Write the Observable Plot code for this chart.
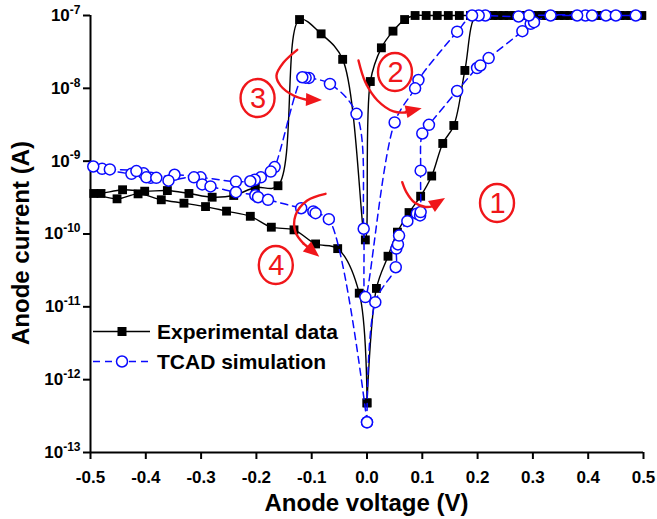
<!DOCTYPE html>
<html><head><meta charset="utf-8">
<script src="https://cdn.jsdelivr.net/npm/d3@7"></script>
<script src="https://cdn.jsdelivr.net/npm/@observablehq/plot@0.6"></script>
<style>
html,body{margin:0;padding:0;background:#fff;}
#chart svg g[aria-label*="axis"] line, #chart svg g[aria-label*="axis"] path {stroke-width:2px;stroke:#000;}
</style></head>
<body><div id="chart"></div>
<script>
// ---- Experimental data (ordered along the measured hysteresis loop) ----
const expV = [0.000, 0.017, 0.038, 0.055, 0.076, 0.097, 0.117, 0.137, 0.157, 0.177,
  0.197, 0.217, 0.237, 0.257, 0.277, 0.297, 0.317, 0.337, 0.357, 0.377, 0.397, 0.417, 0.437, 0.457, 0.477, 0.497,
  0.487, 0.467, 0.447, 0.427, 0.407, 0.387, 0.367, 0.347, 0.327, 0.307, 0.287, 0.267, 0.247, 0.227, 0.207, 0.187, 0.167, 0.147, 0.127, 0.107, 0.087,
  0.068, 0.047, 0.026, 0.006, -0.003, -0.044, -0.083, -0.122, -0.161,
  -0.202, -0.241, -0.280, -0.322, -0.361, -0.402, -0.442, -0.481,
  -0.494, -0.452, -0.414, -0.372, -0.331, -0.292, -0.254, -0.211, -0.173, -0.132, -0.093, -0.053, -0.014, 0.000];
const expI = [4.8e-13, 1.79e-11, 4.95e-11, 1.06e-10, 1.97e-10, 3.3e-10, 6.25e-10, 1.75e-9, 3.09e-9, 1.76e-8,
  1e-7, 1e-7, 1e-7, 1e-7, 1e-7, 1e-7, 1e-7, 1e-7, 1e-7, 1e-7, 1e-7, 1e-7, 1e-7, 1e-7, 1e-7, 1e-7,
  1e-7, 1e-7, 1e-7, 1e-7, 1e-7, 1e-7, 1e-7, 1e-7, 1e-7, 1e-7, 1e-7, 1e-7, 1e-7, 1e-7, 1e-7, 1e-7, 1e-7, 1e-7, 1e-7, 1e-7, 1e-7,
  8.8e-8, 6.1e-8, 3.6e-8, 1.24e-8, 8.3e-11, 2.5e-8, 5.6e-8, 8.8e-8, 4.6e-10,
  4.35e-10, 3.38e-10, 3.2e-10, 3.6e-10, 3.95e-10, 3.87e-10, 4.05e-10, 3.6e-10,
  3.6e-10, 3.04e-10, 3.56e-10, 2.95e-10, 2.65e-10, 2.38e-10, 2.06e-10, 1.75e-10, 1.24e-10, 1.14e-10, 7.3e-11, 6.3e-11, 1.54e-11, 4.8e-13];

// ---- TCAD simulation (ordered along the simulated loop) ----
const simV = [0.000, 0.015, 0.052, 0.053, 0.056, 0.058, 0.073, 0.090, 0.096, 0.097, 0.097, 0.100, 0.112, 0.163, 0.199, 0.205, 0.220, 0.281, 0.296, 0.302,
  0.332, 0.395, 0.432, 0.486,
  0.450, 0.407, 0.380, 0.293, 0.274, 0.214, 0.202, 0.190,
  0.163, 0.093, 0.087, 0.050, -0.003,
  -0.006, -0.019, -0.067, -0.105, -0.111, -0.117,
  -0.167, -0.174, -0.192, -0.203, -0.211, -0.237, -0.301, -0.348, -0.391, -0.404, -0.426, -0.479, -0.495,
  -0.465, -0.417, -0.399, -0.381, -0.359, -0.313, -0.298, -0.283, -0.237, -0.202, -0.197, -0.179, -0.119, -0.097, -0.093, -0.069, 0.000];
const simI = [2.6e-13, 1.16e-11, 3.5e-11, 6.3e-11, 7.2e-11, 9.5e-11, 1.5e-10, 1.9e-10, 1.8e-10, 2.0e-10, 7.4e-10, 2.4e-9, 3.15e-9, 9.2e-9, 1.9e-8, 2.06e-8, 2.6e-8, 6.1e-8, 7.7e-8, 8.1e-8,
  1e-7, 1e-7, 1e-7, 1e-7,
  1e-7, 1e-7, 1e-7, 1e-7, 9.7e-8, 1e-7, 1e-7, 1e-7,
  6.0e-8, 1.3e-8, 1.0e-8, 3.4e-9, 1.36e-11,
  1.18e-10, 4.47e-9, 1.15e-8, 1.39e-8, 1.40e-8, 1.42e-8,
  8.3e-10, 7.2e-10, 6.0e-10, 5.55e-10, 5.3e-10, 5.25e-10, 6.0e-10, 6.5e-10, 5.9e-10, 6.8e-10, 6.7e-10, 7.85e-10, 8.45e-10,
  7.7e-10, 7.3e-10, 6.0e-10, 5.9e-10, 5.4e-10, 6.0e-10, 4.8e-10, 4.5e-10, 3.75e-10, 3.4e-10, 3.2e-10, 2.95e-10, 2.26e-10, 2.04e-10, 1.93e-10, 1.6e-10, 2.6e-13];

// ---- axes ----
const xTicks = [-0.5, -0.4, -0.3, -0.2, -0.1, 0.0, 0.1, 0.2, 0.3, 0.4, 0.5];
const yTicks = [1e-13, 1e-12, 1e-11, 1e-10, 1e-9, 1e-8, 1e-7];
const xTitle = "Anode voltage (V)";
const yTitle = "Anode current (A)";
const seriesNames = ["Experimental data", "TCAD simulation"];

// ---- sweep-direction annotations (data coordinates) ----
const noteLabels = ["1", "2", "3", "4"];
const noteV = [0.236, 0.0515, -0.197, -0.164];
const noteI = [2.62e-10, 1.65e-8, 7.24e-9, 3.69e-11];
const arcV = [
  [0.0637, 0.0714, 0.0859, 0.1058, 0.1203],
  [-0.0154, -0.0027, 0.0190, 0.0479, 0.0696],
  [-0.1262, -0.151, -0.1637, -0.1564, -0.1329, -0.1076],
  [-0.075, -0.1081, -0.1293, -0.1293, -0.1143]
];
const arcI = [
  [5.14e-10, 3.72e-10, 2.70e-10, 2.35e-10, 2.42e-10],
  [2.41e-8, 1.20e-8, 6.81e-9, 4.81e-9, 4.66e-9],
  [3.38e-8, 2.26e-8, 1.50e-8, 1.09e-8, 7.97e-9, 6.92e-9],
  [3.56e-10, 2.88e-10, 1.80e-10, 1.06e-10, 7.33e-11]
];
const tipV = [0.142, 0.0998, -0.0805, -0.0854];
const tipI = [3.07e-10, 5.24e-9, 6.81e-9, 4.80e-11];

const RED = "#f0161a", BLUE = "#0a0aff";
const FONT = "'Liberation Sans', Arial, Helvetica, sans-serif";

const exp = expV.map((v, k) => ({v, i: expI[k]}));
const sim = simV.map((v, k) => ({v, i: simI[k]}));
const arcs = arcV.flatMap((vs, k) => vs.map((v, j) => ({k, v, i: arcI[k][j]})));
const notes = noteLabels.map((t, k) => ({t, v: noteV[k], i: noteI[k]}));

function annotationShapes(index, scales) {
  const {x, y} = scales;
  const g = d3.create("svg:g");
  notes.forEach(n => {
    g.append("ellipse").attr("cx", x(n.v)).attr("cy", y(n.i)).attr("rx", 17).attr("ry", 19)
      .attr("fill", "none").attr("stroke", RED).attr("stroke-width", 2.4);
  });
  arcV.forEach((vs, k) => {
    const m = vs.length - 1;
    const bx = x(vs[m]), by = y(arcI[k][m]);
    const tx = x(tipV[k]), ty = y(tipI[k]);
    const L = Math.hypot(tx - bx, ty - by), ux = (tx - bx) / L, uy = (ty - by) / L;
    const hw = 6.5, hl = 16;
    const cx = tx - ux * hl, cy = ty - uy * hl;
    g.append("line").attr("x1", bx).attr("y1", by).attr("x2", cx + ux * 2).attr("y2", cy + uy * 2)
      .attr("stroke", RED).attr("stroke-width", 2.4);
    g.append("path")
      .attr("d", `M${tx},${ty}L${cx - uy * hw},${cy + ux * hw}L${cx + uy * hw},${cy - ux * hw}Z`)
      .attr("fill", RED);
  });
  return g.node();
}

const W = 657, H = 519;
const chart = Plot.plot({
  width: W, height: H,
  marginLeft: 90, marginRight: 14, marginTop: 15, marginBottom: 67,
  style: {fontFamily: FONT, fontSize: "17px", fontWeight: "bold", background: "#fff", color: "#000", overflow: "visible"},
  x: {domain: [-0.5, 0.5], ticks: xTicks, tickFormat: d => d.toFixed(1), tickSize: 7, tickPadding: 11, label: null},
  y: {type: "log", domain: [1e-13, 1e-7], ticks: yTicks, tickFormat: d => "10^" + Math.round(Math.log10(d)), tickSize: 7, tickPadding: 3, label: null},
  marks: [
    Plot.ruleX([-0.5], {stroke: "#000", strokeWidth: 2}),
    Plot.ruleY([1e-13], {stroke: "#000", strokeWidth: 2}),
    Plot.line(exp, {x: "v", y: "i", stroke: "#000", strokeWidth: 1.4, curve: "catmull-rom"}),
    Plot.dot(exp, {x: "v", y: "i", symbol: "square", r: 5, fill: "#000", stroke: "none"}),
    Plot.line(sim, {x: "v", y: "i", stroke: BLUE, strokeWidth: 1.5, strokeDasharray: "7,5", curve: "catmull-rom"}),
    Plot.dot(sim, {x: "v", y: "i", r: 5.5, fill: "#fff", stroke: BLUE, strokeWidth: 1.5}),
    Plot.line(arcs, {x: "v", y: "i", z: "k", stroke: RED, strokeWidth: 2.4, curve: "catmull-rom"}),
    annotationShapes,
    Plot.text(notes, {x: "v", y: "i", text: "t", fill: RED, fontSize: 29, fontWeight: "normal", fontFamily: FONT})
  ]
});
document.getElementById("chart").appendChild(chart);

const svg = d3.select(chart);
// superscript exponents on y tick labels
svg.selectAll("text").each(function () {
  const m = /^10\^(-?\d+)$/.exec(this.textContent);
  if (m) {
    const s = d3.select(this);
    s.text(null);
    s.append("tspan").text("10");
    s.append("tspan").attr("dy", "-0.6em").attr("font-size", "12px").text(m[1]);
  }
});
// axis titles
svg.append("text").attr("x", 366.5).attr("y", 503).attr("dy", "0.35em").attr("text-anchor", "middle")
  .attr("font-size", 24).attr("font-weight", "bold").attr("font-family", FONT).text(xTitle);
svg.append("text").attr("transform", "translate(21,243) rotate(-90)").attr("dy", "0.35em").attr("text-anchor", "middle")
  .attr("font-size", 24).attr("font-weight", "bold").attr("font-family", FONT).text(yTitle);
// legend
const lg = svg.append("g").attr("font-family", FONT).attr("font-weight", "bold").attr("font-size", 21).attr("text-anchor", "start");
lg.append("line").attr("x1", 93).attr("x2", 150).attr("y1", 331.5).attr("y2", 331.5).attr("stroke", "#000").attr("stroke-width", 1.4);
lg.append("rect").attr("x", 117.5).attr("y", 327).attr("width", 9).attr("height", 9).attr("fill", "#000");
lg.append("text").attr("x", 157).attr("y", 331.5).attr("dy", "0.35em").attr("text-anchor", "start").text(seriesNames[0]);
lg.append("line").attr("x1", 93).attr("x2", 150).attr("y1", 361.5).attr("y2", 361.5).attr("stroke", BLUE).attr("stroke-width", 1.5).attr("stroke-dasharray", "7,5");
lg.append("circle").attr("cx", 122).attr("cy", 361.5).attr("r", 5.5).attr("fill", "#fff").attr("stroke", BLUE).attr("stroke-width", 1.5);
lg.append("text").attr("x", 157).attr("y", 361.5).attr("dy", "0.35em").attr("text-anchor", "start").text(seriesNames[1]);
</script>
</body></html>
